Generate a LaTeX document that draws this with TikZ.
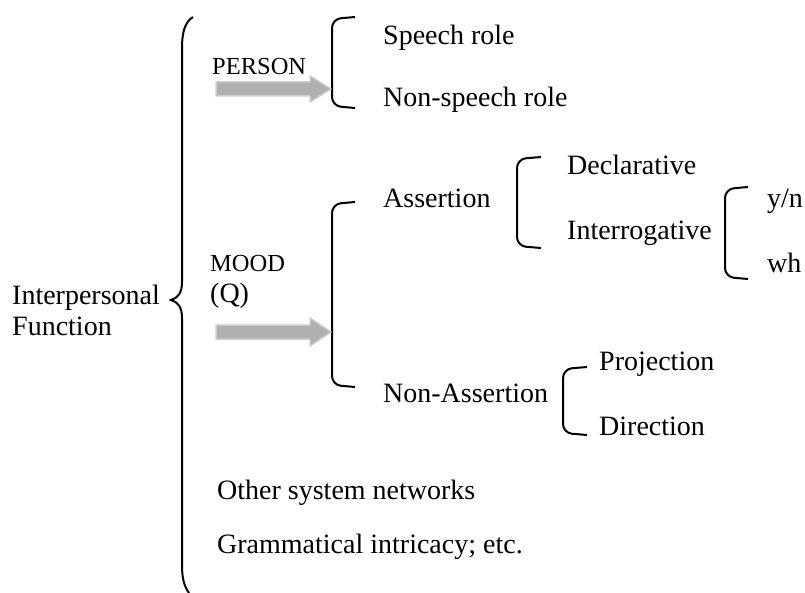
\documentclass[tikz,border=0pt]{standalone}
\usepackage{fontspec}
\setmainfont{Liberation Serif}
\begin{document}
\begin{tikzpicture}[x=1pt,y=-1pt,
  lbl/.style={anchor=base west,inner sep=0pt,font=\fontsize{28}{30}\selectfont},
  sys/.style={anchor=base west,inner sep=0pt,font=\fontsize{24.5}{27}\selectfont},
  brk/.style={line width=2pt,rounded corners=9pt},
  bigarrow/.style={fill=gray!62,draw=gray!40,line width=1.5pt,line join=round}]
\useasboundingbox (0,0) rectangle (805,593);

% texts
\node[lbl] (ip) at (12,305) {Interpersonal};
\node[lbl] (fn) at (12,335) {Function};
\node[sys] (person) at (212,75) {PERSON};
\node[sys] (mood) at (210,272) {MOOD};
\node[lbl] (q) at (210,303) {(Q)};
\node[lbl] (sr) at (383,45) {Speech role};
\node[lbl] (nsr) at (383,107) {Non-speech role};
\node[lbl] (as) at (383,208) {Assertion};
\node[lbl] (nas) at (383,402) {Non-Assertion};
\node[lbl] (dec) at (567,175) {Declarative};
\node[lbl] (int) at (567,240) {Interrogative};
\node[lbl] (yn) at (767,208) {y/n};
\node[lbl] (wh) at (767,273) {wh};
\node[lbl] (proj) at (599,370) {Projection};
\node[lbl] (dir) at (599,435) {Direction};
\node[lbl] (osn) at (217,499) {Other system networks};
\node[lbl] (gi) at (217,553) {Grammatical intricacy; etc.};

% big brace
\draw[line width=2pt]
  (193,17) .. controls (185,22) and (182,32) .. (182,48)
  -- (182,282) .. controls (182,293) and (178,298) .. (171,300)
  .. controls (178,302) and (182,307) .. (182,318)
  -- (182,565) .. controls (182,578) and (184,586) .. (189,593);

% brackets
\draw[brk] (355,17) -- (332,19) -- (332,106) -- (355,108);
\draw[brk] (355,202) -- (332,204) -- (332,385) -- (355,387);
\draw[brk] (541,157) -- (517,159) -- (517,246) -- (541,248);
\draw[brk] (748,187) -- (725,189) -- (725,277) -- (748,279);
\draw[brk] (587,367) -- (563,369) -- (563,433) -- (587,435);

% arrows
\filldraw[bigarrow] (216,82) -- (310,82) -- (310,76) -- (331,89) -- (310,102) -- (310,96) -- (216,96) -- cycle;
\filldraw[bigarrow] (216,325) -- (310,325) -- (310,318) -- (331,332) -- (310,346) -- (310,339) -- (216,339) -- cycle;
\end{tikzpicture}
\end{document}
